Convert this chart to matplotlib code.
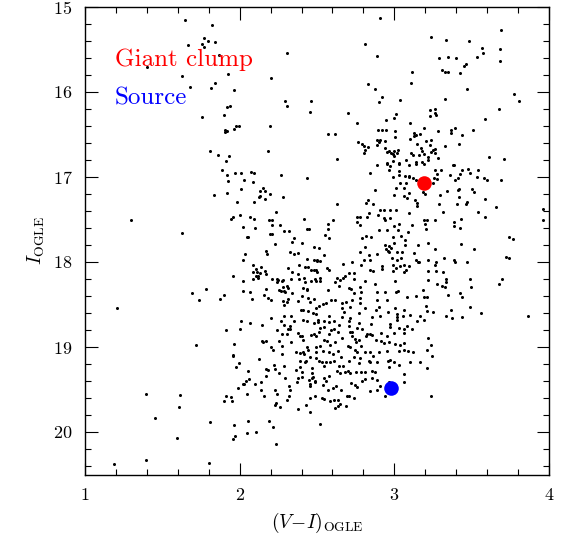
import numpy as np
import matplotlib
matplotlib.use("Agg")
import matplotlib.pyplot as plt
from matplotlib.ticker import MultipleLocator

# ---------------- data: (V-I, I) of field stars ----------------
upper_left = [
    (1.647, 15.157), (1.666, 15.45), (1.399, 15.706), (1.629, 15.816), (1.679, 15.94),
    (1.821, 15.212), (1.767, 15.37), (1.797, 15.40), (1.756, 15.43), (1.84, 15.415), (1.772, 15.47),
    (2.306, 15.54), (1.868, 15.57), (1.922, 15.79), (2.20, 15.84), (1.842, 15.89), (1.815, 15.95),
    (1.963, 15.98), (2.291, 16.11), (2.459, 16.10), (2.306, 16.16), (1.92, 16.18), (1.937, 16.165),
    (2.453, 16.24), (1.756, 16.29), (1.90, 16.27), (1.974, 16.40), (1.996, 16.40), (1.965, 16.44),
    (1.907, 16.45), (1.918, 16.455), (1.903, 16.47), (2.196, 16.40), (1.806, 16.69), (1.858, 16.74),
    (1.933, 16.75), (1.914, 16.81), (2.183, 16.69),
]

far_left = [
    (1.30, 17.50), (1.625, 17.66), (1.694, 18.36), (1.739, 18.45), (1.209, 18.545),
    (1.72, 18.98), (1.397, 19.555), (1.616, 19.57), (1.606, 19.70), (1.45, 19.835),
    (1.593, 20.07), (1.397, 20.33), (1.187, 20.375), (1.804, 20.37),
]

upper_mid = [
    (2.907, 15.125), (3.235, 15.35), (2.812, 15.44), (2.886, 15.58), (3.114, 15.77), (3.108, 15.89),
    (2.832, 15.905), (2.877, 15.97), (2.922, 16.06), (2.903, 16.12), (3.035, 16.09),
    (2.70, 16.25), (3.009, 16.255), (3.0, 16.30), (2.948, 16.33), (3.23, 16.21), (3.23, 16.28),
    (2.76, 16.36), (3.10, 16.36), (2.569, 16.49), (2.616, 16.49), (2.896, 16.45), (2.918, 16.45),
    (2.948, 16.45), (3.006, 16.46), (3.19, 16.42), (3.129, 16.48), (3.14, 16.50), (3.125, 16.52),
    (3.166, 16.49), (3.004, 16.53), (3.099, 16.55), (2.89, 16.56), (2.91, 16.565), (2.90, 16.59),
    (2.886, 16.62), (2.94, 16.58), (2.767, 16.59), (2.793, 16.61), (2.804, 16.63), (2.828, 16.65),
    (2.812, 16.68), (2.802, 16.72), (2.94, 16.66), (2.95, 16.71), (2.967, 16.69), (2.976, 16.72),
    (2.991, 16.73), (3.0, 16.69), (3.025, 16.68), (3.015, 16.72), (2.996, 16.75),
    (3.149, 16.61), (3.175, 16.66), (3.181, 16.69), (3.194, 16.73), (3.203, 16.58), (3.235, 16.56),
    (3.231, 16.62), (3.239, 16.71), (3.109, 16.72), (3.12, 16.74), (3.157, 16.745), (3.22, 16.76),
    (3.218, 16.80), (3.25, 16.68), (2.629, 16.79), (2.99, 16.81), (3.03, 16.83), (3.075, 16.80),
    (2.95, 16.84), (3.138, 16.82), (3.18, 16.82),
]

upper_right = [
    (3.688, 15.27), (3.332, 15.39), (3.485, 15.40), (3.565, 15.48), (3.571, 15.54), (3.683, 15.49),
    (3.291, 15.60), (3.349, 15.585), (3.40, 15.60), (3.532, 15.59), (3.686, 15.63), (3.461, 15.67),
    (3.448, 15.69), (3.308, 15.74), (3.33, 15.77), (3.345, 15.76), (3.424, 15.78), (3.468, 15.96),
    (3.772, 16.02), (3.808, 16.11), (3.327, 16.08), (3.265, 16.20), (3.261, 16.25), (3.271, 16.27),
    (3.679, 16.20), (3.586, 16.32), (3.282, 16.46), (3.364, 16.45), (3.364, 16.48), (3.392, 16.42),
    (3.435, 16.50), (3.51, 16.45), (3.33, 16.63), (3.42, 16.615), (3.265, 16.67), (3.265, 16.72),
    (3.282, 16.78), (3.614, 16.77), (3.709, 16.79),
]

mid_left = [
    (1.888, 16.92), (1.916, 16.98), (1.968, 16.95), (2.011, 16.95), (2.071, 16.94), (2.094, 16.95),
    (2.265, 16.98), (2.435, 17.015), (1.927, 17.05), (2.028, 17.04), (2.084, 17.055), (2.006, 17.14),
    (2.151, 17.13), (2.133, 17.16), (2.166, 17.17), (1.836, 17.21), (1.916, 17.19), (2.129, 17.22),
    (2.125, 17.235), (2.196, 17.20), (2.162, 17.255), (2.282, 17.23), (1.985, 17.29), (2.09, 17.29),
    (1.955, 17.47), (1.946, 17.49), (2.0, 17.45), (2.067, 17.475), (2.095, 17.49), (2.237, 17.41),
    (2.19, 17.51), (2.209, 17.50), (2.418, 17.49), (2.26, 17.56), (2.207, 17.57), (2.02, 17.59),
    (2.101, 17.60), (2.284, 17.63), (2.32, 17.64), (2.433, 17.615), (2.446, 17.61), (2.196, 17.67),
    (2.211, 17.67), (2.054, 17.70), (2.045, 17.71), (2.353, 17.72), (2.228, 17.785), (2.336, 17.77),
    (2.401, 17.78), (2.482, 17.82), (2.172, 17.875), (2.178, 17.905), (2.325, 17.88), (2.353, 17.91),
    (2.375, 17.895), (2.036, 17.91), (2.023, 17.98), (2.086, 18.03), (2.437, 17.97), (2.482, 17.98),
    (2.50, 17.985), (2.381, 18.03), (2.14, 18.055), (2.107, 18.08), (2.164, 18.10), (2.115, 18.12),
    (2.089, 18.12), (2.132, 18.125), (2.312, 18.07), (2.336, 18.12), (2.375, 18.14), (2.424, 18.055),
    (2.443, 18.06), (2.461, 18.09), (2.482, 18.09), (2.493, 18.09), (2.498, 18.12), (2.17, 18.145),
    (2.107, 18.16), (2.116, 18.16), (2.118, 18.19), (2.088, 18.20), (1.96, 18.17), (2.207, 18.20),
    (2.243, 18.195), (2.245, 18.21), (2.275, 18.225), (2.282, 18.21), (2.239, 18.24), (2.33, 18.195),
    (2.381, 18.20), (2.418, 18.19), (2.459, 18.225), (2.493, 18.225), (2.424, 18.235), (2.487, 18.195),
    (2.02, 18.22), (1.784, 18.32), (2.023, 18.34), (2.069, 18.35), (2.252, 18.325), (2.269, 18.34),
    (2.288, 18.345), (2.312, 18.31), (2.304, 18.285), (2.293, 18.355), (2.282, 18.29), (2.41, 18.31),
    (2.435, 18.32), (2.435, 18.33), (2.17, 18.32), (1.875, 18.435), (1.897, 18.39), (2.078, 18.43),
    (2.157, 18.39), (2.185, 18.42), (2.205, 18.45), (2.336, 18.37), (2.377, 18.46), (2.403, 18.40),
    (2.44, 18.42), (2.455, 18.47), (2.482, 18.44), (2.277, 18.46), (2.304, 18.47), (2.315, 18.43),
    (2.285, 18.50), (2.407, 18.56), (2.397, 18.57), (2.44, 18.58), (2.493, 18.54), (2.493, 18.61),
    (2.20, 18.655), (2.288, 18.63), (2.332, 18.63), (2.476, 18.60),
]

mid_center = [
    (2.888, 16.855), (2.955, 16.85), (2.97, 16.875), (3.032, 16.85), (3.093, 16.855), (3.138, 16.845),
    (3.194, 16.845), (2.845, 16.95), (2.968, 16.92), (2.991, 16.995), (3.03, 16.935), (3.028, 16.975),
    (3.069, 16.985), (3.094, 17.0), (3.035, 17.065), (3.013, 17.125), (3.078, 17.07), (3.063, 17.13),
    (3.094, 17.19), (3.097, 16.99), (3.121, 17.015), (3.138, 17.03), (3.0, 17.215), (3.06, 17.225),
    (3.08, 17.245), (3.134, 17.275), (3.147, 17.34), (3.185, 17.18), (3.196, 17.195), (3.147, 17.30),
    (2.873, 17.15), (2.83, 17.265), (2.819, 17.30), (2.862, 17.315), (2.627, 17.32), (2.907, 17.39),
    (2.931, 17.385), (2.974, 17.39), (3.009, 17.385), (2.838, 17.42), (2.894, 17.45), (2.931, 17.48),
    (2.937, 17.50), (2.972, 17.48), (3.094, 17.42), (2.757, 17.47), (2.778, 17.47), (2.758, 17.535),
    (2.78, 17.57), (2.825, 17.475), (2.603, 17.50), (2.573, 17.55), (2.569, 17.61), (2.552, 17.685),
    (2.578, 17.72), (2.903, 17.62), (2.955, 17.62), (3.03, 17.55), (3.026, 17.62), (3.114, 17.56),
    (3.194, 17.51), (3.213, 17.51), (3.196, 17.55), (3.205, 17.61), (2.997, 17.58), (2.819, 17.69),
    (2.79, 17.72), (2.851, 17.71), (2.99, 17.70), (3.041, 17.69), (3.086, 17.65), (3.069, 17.74),
    (2.81, 17.82), (2.942, 17.795), (2.963, 17.815), (2.998, 17.775), (3.067, 17.80), (2.946, 17.845),
    (2.959, 17.865), (2.98, 17.83), (3.15, 17.795), (3.218, 17.775), (2.778, 17.88), (2.838, 17.915),
    (2.888, 17.905), (2.967, 17.885), (3.019, 17.885), (3.047, 17.885), (3.129, 17.895), (2.515, 17.835),
    (2.543, 17.92), (2.50, 17.975), (2.521, 17.99), (2.806, 17.975), (2.84, 17.98), (2.982, 17.95),
    (3.015, 17.975), (3.045, 17.95), (3.138, 17.975), (3.151, 17.995), (3.159, 18.005), (3.218, 17.98),
    (2.668, 18.02), (2.724, 17.995), (2.786, 18.03), (2.99, 18.035), (3.038, 18.045), (3.064, 18.04),
    (3.097, 18.045), (2.993, 18.10), (3.008, 18.07), (3.06, 18.12), (3.077, 18.095), (2.565, 18.07),
    (2.575, 18.09), (2.845, 18.09), (2.864, 18.10), (2.92, 18.05), (2.922, 18.08), (3.22, 18.10),
    (2.709, 18.13), (2.74, 18.13), (2.679, 18.16), (2.629, 18.19), (2.666, 18.185), (2.65, 18.21),
    (2.614, 18.235), (2.521, 18.185), (2.521, 18.225), (2.74, 18.195), (2.812, 18.22), (2.709, 18.31),
    (2.722, 18.315), (2.776, 18.29), (2.786, 18.35), (2.737, 18.37), (2.644, 18.28), (2.877, 18.255),
    (3.006, 18.225), (3.01, 18.35), (3.026, 18.345), (2.942, 18.355), (2.888, 18.35), (2.888, 18.45),
    (2.953, 18.445), (3.08, 18.415), (3.138, 18.395), (3.187, 18.325), (3.194, 18.41), (3.213, 18.415),
    (3.22, 18.215), (2.569, 18.325), (2.592, 18.445), (2.618, 18.445), (2.56, 18.485), (2.536, 18.49),
    (2.511, 18.52), (2.662, 18.485), (2.69, 18.465), (2.727, 18.45), (2.78, 18.42), (2.776, 18.48),
    (2.715, 18.53), (2.662, 18.54), (2.673, 18.59), (2.812, 18.54), (2.879, 18.56), (2.899, 18.53),
    (3.002, 18.54), (2.957, 18.59), (3.017, 18.61), (3.06, 18.57), (3.103, 18.62), (3.207, 18.52),
    (3.211, 18.58), (2.575, 18.64), (2.662, 18.65), (2.715, 18.66), (2.77, 18.60), (2.856, 18.65),
    (2.91, 18.64), (3.017, 18.65), (3.058, 18.64), (3.168, 18.63),
]

mid_right = [
    (3.379, 16.855), (3.388, 16.86), (3.30, 16.915), (3.261, 16.92), (3.274, 16.96), (3.44, 16.915),
    (3.477, 16.905), (3.543, 16.915), (3.423, 16.96), (3.491, 16.95), (3.362, 16.98), (3.412, 17.01),
    (3.39, 17.03), (3.256, 17.01), (3.279, 17.02), (3.535, 17.005), (3.582, 17.01), (3.597, 17.04),
    (3.688, 17.04), (3.25, 17.07), (3.34, 17.16), (3.411, 17.15), (3.42, 17.14), (3.504, 17.14),
    (3.517, 17.18), (3.293, 17.215), (3.417, 17.24), (3.589, 17.255), (3.287, 17.32), (3.403, 17.315),
    (3.461, 17.315), (3.467, 17.295), (3.657, 17.35), (3.314, 17.41), (3.539, 17.415), (3.584, 17.465),
    (3.433, 17.49), (3.265, 17.505), (3.388, 17.525), (3.388, 17.58), (3.427, 17.60), (3.961, 17.38),
    (3.963, 17.50), (3.741, 17.70), (3.765, 17.73), (3.431, 17.785), (3.263, 17.85), (3.517, 17.85),
    (3.72, 17.94), (3.743, 17.95), (3.321, 17.955), (3.386, 17.975), (3.392, 17.995), (3.468, 18.005),
    (3.271, 17.995), (3.265, 18.035), (3.269, 18.105), (3.317, 18.115), (3.336, 18.20), (3.332, 18.235),
    (3.278, 18.26), (3.31, 18.28), (3.328, 18.295), (3.487, 18.20), (3.493, 18.295), (3.694, 18.20),
    (3.679, 18.26), (3.347, 18.385), (3.423, 18.37), (3.435, 18.41), (3.487, 18.53), (3.366, 18.57),
    (3.25, 18.59), (3.336, 18.63), (3.373, 18.66), (3.438, 18.65), (3.563, 18.60), (3.862, 18.63),
]

lower_left = [
    (2.009, 18.695), (2.067, 18.72), (2.144, 18.74), (2.267, 18.695), (2.285, 18.745), (2.323, 18.755),
    (2.31, 18.79), (2.353, 18.695), (2.41, 18.685), (2.437, 18.695), (2.482, 18.715), (2.504, 18.68),
    (1.912, 18.795), (2.004, 18.79), (2.241, 18.795), (2.274, 18.845), (2.308, 18.845), (2.327, 18.79),
    (2.375, 18.835), (2.388, 18.875), (2.403, 18.875), (2.461, 18.86), (2.482, 18.845), (2.493, 18.865),
    (2.146, 18.925), (2.151, 18.945), (2.168, 18.93), (2.254, 18.93), (2.334, 18.945), (2.41, 18.915),
    (1.961, 18.97), (2.271, 18.99), (2.205, 19.005), (2.214, 19.03), (2.433, 19.00), (2.442, 19.03),
    (2.493, 19.00), (1.958, 19.09), (1.958, 19.11), (2.125, 19.145), (2.271, 19.08), (2.364, 19.06),
    (2.392, 19.075), (2.407, 19.06), (2.418, 19.08), (2.455, 19.12), (2.493, 19.06), (1.994, 19.19),
    (1.978, 19.24), (2.22, 19.21), (2.288, 19.22), (2.388, 19.17), (2.424, 19.18), (2.431, 19.17),
    (2.392, 19.23), (2.493, 19.13), (2.054, 19.28), (2.17, 19.26), (2.181, 19.27), (2.226, 19.26),
    (2.254, 19.30), (2.362, 19.27), (2.401, 19.29), (2.468, 19.25), (2.47, 19.305), (2.168, 19.345),
    (2.291, 19.37), (2.375, 19.365), (2.371, 19.415), (2.401, 19.355), (2.448, 19.385), (2.466, 19.36),
    (2.476, 19.355), (2.489, 19.405), (2.06, 19.375), (2.04, 19.405), (2.026, 19.43), (2.022, 19.44),
    (2.099, 19.43), (2.138, 19.415), (1.987, 19.48), (2.136, 19.505), (2.228, 19.51), (2.321, 19.455),
    (2.325, 19.51), (2.456, 19.44), (2.453, 19.455), (2.487, 19.41), (2.049, 19.555), (2.159, 19.575),
    (2.241, 19.555), (2.319, 19.575), (1.914, 19.58), (1.942, 19.59), (1.901, 19.63), (1.95, 19.64),
    (2.455, 19.605), (2.489, 19.58), (2.306, 19.62), (2.226, 19.68), (2.233, 19.66), (2.261, 19.71),
    (2.375, 19.735), (2.431, 19.68), (2.453, 19.77), (1.806, 19.88), (2.054, 19.87), (2.191, 19.875),
    (1.961, 19.92), (2.214, 19.945), (2.047, 20.01), (2.107, 20.00), (1.97, 20.045), (1.958, 20.085),
    (2.235, 20.14),
]

lower_center = [
    (2.508, 18.71), (2.543, 18.694), (2.576, 18.706), (2.608, 18.698), (2.64, 18.738), (2.709, 18.69),
    (2.709, 18.75), (2.77, 18.718), (2.851, 18.726), (2.974, 18.726), (2.97, 18.768), (3.019, 18.679),
    (3.061, 18.788), (3.082, 18.75), (3.147, 18.69), (3.19, 18.682), (2.521, 18.78), (2.547, 18.768),
    (2.511, 18.827), (2.59, 18.796), (2.608, 18.788), (2.634, 18.827), (2.578, 18.847), (2.726, 18.82),
    (2.759, 18.78), (2.791, 18.788), (2.823, 18.847), (2.854, 18.859), (2.914, 18.839), (2.953, 18.867),
    (2.996, 18.839), (3.032, 18.78), (3.064, 18.835), (3.114, 18.785), (3.216, 18.894), (3.237, 18.973),
    (2.547, 18.914), (2.565, 18.93), (2.586, 18.976), (2.618, 18.938), (2.662, 18.898), (2.715, 18.82),
    (2.726, 18.867), (2.744, 18.906), (2.752, 18.938), (2.77, 18.914), (2.784, 18.992), (2.819, 18.875),
    (2.845, 18.847), (2.884, 18.914), (2.914, 18.926), (2.931, 18.953), (2.964, 18.945), (3.002, 18.965),
    (3.039, 18.976), (3.064, 18.953), (3.086, 19.043), (3.121, 19.055), (2.521, 18.992), (2.539, 19.047),
    (2.576, 19.063), (2.601, 19.082), (2.634, 19.043), (2.698, 18.992), (2.715, 19.004), (2.748, 19.032),
    (2.759, 19.063), (2.812, 19.063), (2.845, 19.055), (2.899, 19.063), (2.953, 19.043), (3.032, 19.051),
    (3.211, 19.035), (3.243, 19.102), (3.064, 19.032), (2.511, 19.161), (2.532, 19.18), (2.56, 19.173),
    (2.586, 19.18), (2.543, 19.227), (2.608, 19.161), (2.64, 19.22), (2.668, 19.22), (2.655, 19.121),
    (2.705, 19.161), (2.741, 19.121), (2.78, 19.133), (2.77, 19.188), (2.834, 19.161), (2.845, 19.18),
    (2.86, 19.11), (2.888, 19.173), (2.959, 19.161), (2.97, 19.149), (2.996, 19.18), (3.028, 19.212),
    (3.099, 19.173), (3.164, 19.173), (3.211, 19.251), (2.629, 19.279), (2.647, 19.306), (2.683, 19.298),
    (2.698, 19.286), (2.715, 19.306), (2.754, 19.298), (2.784, 19.29), (2.812, 19.298), (2.856, 19.286),
    (2.877, 19.298), (2.964, 19.239), (3.06, 19.318), (2.576, 19.338), (2.543, 19.368), (2.56, 19.396),
    (2.539, 19.447), (2.603, 19.486), (2.569, 19.502), (2.625, 19.455), (2.657, 19.502), (2.72, 19.424),
    (2.748, 19.447), (2.759, 19.474), (2.791, 19.396), (2.812, 19.376), (2.856, 19.368), (2.888, 19.384),
    (2.909, 19.455), (2.964, 19.415), (3.064, 19.415), (2.888, 19.509), (2.845, 19.514), (2.53, 19.596),
    (2.547, 19.612), (2.582, 19.632), (2.608, 19.62), (2.634, 19.627), (2.694, 19.58), (2.709, 19.58),
    (2.737, 19.60), (2.651, 19.674), (2.634, 19.698), (2.618, 19.714), (2.689, 19.69), (2.942, 19.58),
    (3.239, 19.573), (2.521, 19.91),
]

# highlighted objects
clump_vi, clump_i = 3.19, 17.07
source_vi, source_i = 2.98, 19.48
labels = ["Giant clump", "Source"]

# ---------------- plotting ----------------
plt.rcParams['font.family'] = 'serif'
plt.rcParams['font.serif'] = ['cmr10', 'DejaVu Serif']
plt.rcParams['mathtext.fontset'] = 'cm'
plt.rcParams['axes.formatter.use_mathtext'] = True

stars = np.array(upper_left + far_left + upper_mid + upper_right + mid_left +
                 mid_center + mid_right + lower_left + lower_center)

fig = plt.figure(figsize=(5.68, 5.43), dpi=100)
ax = fig.add_axes([85 / 568, 1 - 474.5 / 543, 464 / 568, 467.5 / 543])

ax.plot(stars[:, 0], stars[:, 1], 'o', ms=2.2, color='black', mec='none')
ax.plot([clump_vi], [clump_i], 'o', ms=10.5, color='#ff0000', mec='none')
ax.plot([source_vi], [source_i], 'o', ms=10.5, color='#0000ff', mec='none')

ax.set_xlim(1, 4)
ax.set_ylim(20.5, 15)
ax.xaxis.set_major_locator(MultipleLocator(1))
ax.xaxis.set_minor_locator(MultipleLocator(0.2))
ax.yaxis.set_major_locator(MultipleLocator(1))
ax.yaxis.set_minor_locator(MultipleLocator(0.2))
ax.tick_params(which='both', direction='in', top=True, right=True, width=0.8)
ax.tick_params(which='major', length=9, labelsize=13, pad=9)
ax.tick_params(which='minor', length=4.5)
for s in ax.spines.values():
    s.set_linewidth(1.0)

ax.set_xlabel(r'$(V\!-\!I)_{\rm OGLE}$', fontsize=14, labelpad=6)
ax.set_ylabel(r'$I_{\rm OGLE}$', fontsize=14, labelpad=4)

ax.text(1.194, 15.62, labels[0], color='#ff0000', fontsize=18, va='center', ha='left')
ax.text(1.194, 16.07, labels[1], color='#0000ff', fontsize=18, va='center', ha='left')

fig.savefig('out.png', dpi=100)
